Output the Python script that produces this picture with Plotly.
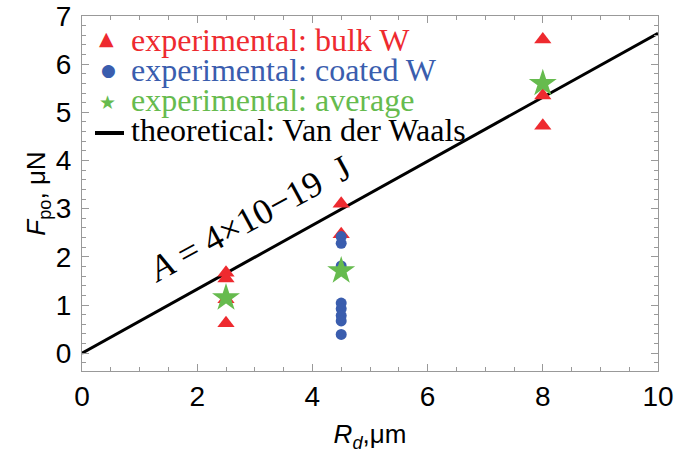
import plotly.graph_objects as go

# Data
bulk_x = [2.5, 2.5, 2.5, 2.5, 4.5, 4.5, 8, 8, 8]
bulk_y = [1.67, 1.55, 1.12, 0.62, 3.10, 2.47, 6.51, 5.35, 4.72]
coated_x = [4.5, 4.5, 4.5, 4.5, 4.5, 4.5, 4.5, 4.5]
coated_y = [2.42, 2.28, 1.81, 1.04, 0.92, 0.78, 0.67, 0.39]
avg_x = [2.5, 4.5, 8]
avg_y = [1.15, 1.71, 5.60]
theory_x = [0, 10]
theory_slope = 0.664
theory_y = [theory_slope * v for v in theory_x]

x_ticks = [0, 2, 4, 6, 8, 10]
y_ticks = [0, 1, 2, 3, 4, 5, 6, 7]

legend_labels = ["experimental: bulk W", "experimental: coated W",
                 "experimental: average", "theoretical: Van der Waals"]

RED = "#EE2A2F"
BLUE = "#3A5DAE"
GREEN = "#66BB4E"
legend_colors = [RED, BLUE, GREEN, "black"]

fig = go.Figure()
fig.add_trace(go.Scatter(
    x=theory_x, y=theory_y, mode="lines",
    line=dict(color="black", width=3), showlegend=False))
fig.add_trace(go.Scatter(
    x=bulk_x, y=bulk_y, mode="markers",
    marker=dict(symbol="triangle-up", size=15, color=RED), showlegend=False))
fig.add_trace(go.Scatter(
    x=coated_x, y=coated_y, mode="markers",
    marker=dict(symbol="circle", size=11, color=BLUE), showlegend=False))
fig.add_trace(go.Scatter(
    x=avg_x, y=avg_y, mode="markers",
    marker=dict(symbol="star", size=21, color=GREEN), showlegend=False))

fig.add_annotation(
    x=2.9, y=2.78, xref="x", yref="y",
    text="<i>A</i> = 4×10−19  J", showarrow=False, textangle=-28.5,
    font=dict(family="Liberation Serif", size=36, color="black"))

# Plot area in page pixels (body margin removed below)
L, R, T, B = 82, 658, 16, 371
def px(x):
    return (x - L) / (R - L)
def py(y):
    return (B - y) / (B - T)

row_y = [40, 70, 100, 130]
glyphs = ["▲", "●", "★"]
glyph_sizes = [19, 17, 19]
glyph_x = [106, 108, 107]
glyph_y = [38, 70, 102]
for i in range(3):
    fig.add_annotation(x=px(glyph_x[i]), y=py(glyph_y[i]), xref="paper", yref="paper",
                       text=glyphs[i], showarrow=False, xanchor="center", yanchor="middle",
                       font=dict(family="DejaVu Sans", size=glyph_sizes[i], color=legend_colors[i]))
fig.add_shape(type="line", xref="paper", yref="paper",
              x0=px(95), x1=px(124), y0=py(133), y1=py(133),
              line=dict(color="black", width=4))
for i, lab in enumerate(legend_labels):
    fig.add_annotation(x=px(129), y=py(row_y[i]), xref="paper", yref="paper",
                       text=lab, showarrow=False, xanchor="left", yanchor="middle",
                       font=dict(family="Liberation Serif", size=32, color=legend_colors[i]))

axis_common = dict(
    showline=True, linecolor="#999999", linewidth=1.2, mirror="ticks",
    ticks="inside", ticklen=7, tickcolor="#999999", tickwidth=1,
    showgrid=False, zeroline=False, automargin=False, ticklabeloverflow="allow",
    tickfont=dict(family="Liberation Sans", size=28, color="black"),
)

fig.update_xaxes(
    range=[0, 10], tickvals=x_ticks, ticklabelstandoff=0,
    minor=dict(dtick=0.5, ticks="inside", ticklen=4, tickcolor="#999999"),
    title=dict(text="<i>R<sub>d</sub></i>,μm",
               font=dict(family="Liberation Sans", size=26, color="black"),
               standoff=14),
    **axis_common)
fig.update_yaxes(
    range=[-0.37, 7], tickvals=y_ticks, ticklabelstandoff=4,
    minor=dict(dtick=0.2, ticks="inside", ticklen=4, tickcolor="#999999"),
    title=dict(text="<i>F</i><sub>po</sub>, μN",
               font=dict(family="Liberation Sans", size=26, color="black"),
               standoff=2),
    **axis_common)

fig.update_layout(
    width=692, height=458,
    margin=dict(l=L, r=692 - R, t=T, b=458 - B),
    plot_bgcolor="white", paper_bgcolor="white",
    showlegend=False,
)

fig.write_html("out.html",
               config={"displayModeBar": False},
               post_script="document.body.style.margin='0';")
